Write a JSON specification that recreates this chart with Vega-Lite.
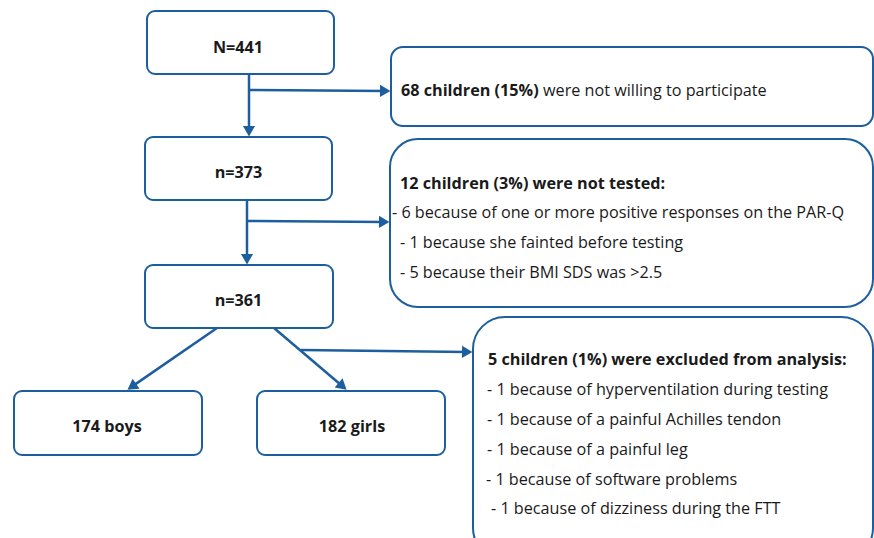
{
  "$schema": "https://vega.github.io/schema/vega-lite/v6.json",
  "width": 874,
  "height": 538,
  "autosize": {"type": "fit", "contains": "padding"},
  "padding": 0,
  "background": "white",
  "config": {"view": {"stroke": null}},
  "datasets": {
    "boxes": [
      {"name": "N=441", "kind": "count", "x": 147, "x2": 334, "y": 11, "y2": 74},
      {"name": "n=373", "kind": "count", "x": 145, "x2": 332, "y": 137, "y2": 200},
      {"name": "n=361", "kind": "count", "x": 145, "x2": 333, "y": 265, "y2": 328},
      {"name": "174 boys", "kind": "count", "x": 14, "x2": 202, "y": 391, "y2": 455},
      {"name": "182 girls", "kind": "count", "x": 257, "x2": 445, "y": 391, "y2": 455},
      {"name": "not willing", "kind": "small", "x": 391, "x2": 873, "y": 47, "y2": 126},
      {"name": "not tested", "kind": "medium", "x": 390, "x2": 873, "y": 139, "y2": 307},
      {"name": "excluded", "kind": "large", "x": 473, "x2": 873, "y": 317, "y2": 560}
    ],
    "arrows": [
      {"from": "N=441", "to": "n=373", "x": 249, "y": 74, "x2": 249, "y2": 137},
      {"from": "N=441", "to": "not willing", "x": 249, "y": 90, "x2": 391, "y2": 91},
      {"from": "n=373", "to": "n=361", "x": 247, "y": 200, "x2": 247, "y2": 265},
      {"from": "n=373", "to": "not tested", "x": 247, "y": 221, "x2": 390, "y2": 222},
      {"from": "n=361", "to": "174 boys", "x": 217, "y": 328, "x2": 127, "y2": 390},
      {"from": "n=361", "to": "182 girls", "x": 274, "y": 328, "x2": 347, "y2": 390},
      {"from": "n=361", "to": "excluded", "x": 301, "y": 350, "x2": 473, "y2": 352}
    ],
    "labels": [
      {"text": "N=441", "role": "count", "x": 238, "y": 53},
      {"text": "n=373", "role": "count", "x": 238.5, "y": 178},
      {"text": "n=361", "role": "count", "x": 238.5, "y": 306},
      {"text": "174 boys", "role": "count", "x": 107, "y": 432},
      {"text": "182 girls", "role": "count", "x": 352, "y": 432},
      {"text": "68 children (15%)", "role": "head", "x": 401, "y": 96},
      {"text": "were not willing to participate", "role": "item", "x": 543, "y": 96},
      {"text": "12 children (3%) were not tested:", "role": "head", "x": 400, "y": 189},
      {"text": "- 6 because of one or more positive responses on the PAR-Q", "role": "item", "x": 392, "y": 218},
      {"text": "- 1 because she fainted before testing", "role": "item", "x": 400, "y": 248},
      {"text": "- 5 because their BMI SDS was >2.5", "role": "item", "x": 400, "y": 278},
      {"text": "5 children (1%) were excluded from analysis:", "role": "head", "x": 488, "y": 365},
      {"text": "- 1 because of hyperventilation during testing", "role": "item", "x": 487, "y": 395},
      {"text": "- 1 because of a painful Achilles tendon", "role": "item", "x": 487, "y": 425},
      {"text": "- 1 because of a painful leg", "role": "item", "x": 487, "y": 455},
      {"text": "- 1 because of software problems", "role": "item", "x": 486, "y": 485},
      {"text": "- 1 because of dizziness during the FTT", "role": "item", "x": 491, "y": 514}
    ]
  },
  "layer": [
    {
      "data": {"name": "boxes"},
      "transform": [{"filter": "datum.kind === 'count'"}],
      "mark": {"type": "rect", "fill": "white", "stroke": "#1d5e9e", "strokeWidth": 2, "cornerRadius": 8, "clip": true},
      "encoding": {
        "x": {"field": "x", "type": "quantitative", "scale": {"domain": [0, 874], "nice": false, "zero": false}, "axis": null},
        "x2": {"field": "x2"},
        "y": {"field": "y", "type": "quantitative", "scale": {"domain": [0, 538], "nice": false, "zero": false, "reverse": true}, "axis": null},
        "y2": {"field": "y2"}
      }
    },
    {
      "data": {"name": "boxes"},
      "transform": [{"filter": "datum.kind === 'small'"}],
      "mark": {"type": "rect", "fill": "white", "stroke": "#1d5e9e", "strokeWidth": 2, "cornerRadius": 12, "clip": true},
      "encoding": {
        "x": {"field": "x", "type": "quantitative"},
        "x2": {"field": "x2"},
        "y": {"field": "y", "type": "quantitative"},
        "y2": {"field": "y2"}
      }
    },
    {
      "data": {"name": "boxes"},
      "transform": [{"filter": "datum.kind === 'medium'"}],
      "mark": {"type": "rect", "fill": "white", "stroke": "#1d5e9e", "strokeWidth": 2, "cornerRadius": 28, "clip": true},
      "encoding": {
        "x": {"field": "x", "type": "quantitative"},
        "x2": {"field": "x2"},
        "y": {"field": "y", "type": "quantitative"},
        "y2": {"field": "y2"}
      }
    },
    {
      "data": {"name": "boxes"},
      "transform": [{"filter": "datum.kind === 'large'"}],
      "mark": {"type": "rect", "fill": "white", "stroke": "#1d5e9e", "strokeWidth": 2, "cornerRadius": 32, "clip": true},
      "encoding": {
        "x": {"field": "x", "type": "quantitative"},
        "x2": {"field": "x2"},
        "y": {"field": "y", "type": "quantitative"},
        "y2": {"field": "y2"}
      }
    },
    {
      "data": {"name": "arrows"},
      "transform": [
        {"calculate": "sqrt(pow(datum.x2 - datum.x, 2) + pow(datum.y2 - datum.y, 2))", "as": "len"},
        {"calculate": "datum.x2 - 5.5 * (datum.x2 - datum.x) / datum.len", "as": "hx"},
        {"calculate": "datum.y2 - 5.5 * (datum.y2 - datum.y) / datum.len", "as": "hy"}
      ],
      "mark": {"type": "rule", "color": "#1d5e9e", "strokeWidth": 2.5},
      "encoding": {
        "x": {"field": "x", "type": "quantitative"},
        "y": {"field": "y", "type": "quantitative"},
        "x2": {"field": "hx"},
        "y2": {"field": "hy"}
      }
    },
    {
      "data": {"name": "arrows"},
      "transform": [
        {"calculate": "sqrt(pow(datum.x2 - datum.x, 2) + pow(datum.y2 - datum.y, 2))", "as": "len"},
        {"calculate": "datum.x2 - 5.5 * (datum.x2 - datum.x) / datum.len", "as": "hx"},
        {"calculate": "datum.y2 - 5.5 * (datum.y2 - datum.y) / datum.len", "as": "hy"},
        {"calculate": "atan2(datum.x2 - datum.x, -(datum.y2 - datum.y)) * 180 / PI", "as": "ang"}
      ],
      "mark": {"type": "point", "shape": "M-1.1,1L1.1,1L0,-0.9Z", "filled": true, "color": "#1d5e9e", "size": 121, "opacity": 1, "strokeWidth": 0},
      "encoding": {
        "x": {"field": "hx", "type": "quantitative"},
        "y": {"field": "hy", "type": "quantitative"},
        "angle": {"field": "ang", "type": "quantitative", "scale": null}
      }
    },
    {
      "data": {"name": "labels"},
      "transform": [{"filter": "datum.role === 'count'"}],
      "mark": {"type": "text", "align": "center", "baseline": "alphabetic", "font": "Open Sans", "fontSize": 16.2, "fontWeight": "bold", "color": "#1a1a1a"},
      "encoding": {
        "x": {"field": "x", "type": "quantitative"},
        "y": {"field": "y", "type": "quantitative"},
        "text": {"field": "text"}
      }
    },
    {
      "data": {"name": "labels"},
      "transform": [{"filter": "datum.role === 'head'"}],
      "mark": {"type": "text", "align": "left", "baseline": "alphabetic", "font": "Open Sans", "fontSize": 16.2, "fontWeight": "bold", "color": "#1a1a1a"},
      "encoding": {
        "x": {"field": "x", "type": "quantitative"},
        "y": {"field": "y", "type": "quantitative"},
        "text": {"field": "text"}
      }
    },
    {
      "data": {"name": "labels"},
      "transform": [{"filter": "datum.role === 'item'"}],
      "mark": {"type": "text", "align": "left", "baseline": "alphabetic", "font": "Open Sans", "fontSize": 16.2, "fontWeight": "normal", "color": "#1a1a1a"},
      "encoding": {
        "x": {"field": "x", "type": "quantitative"},
        "y": {"field": "y", "type": "quantitative"},
        "text": {"field": "text"}
      }
    }
  ]
}
